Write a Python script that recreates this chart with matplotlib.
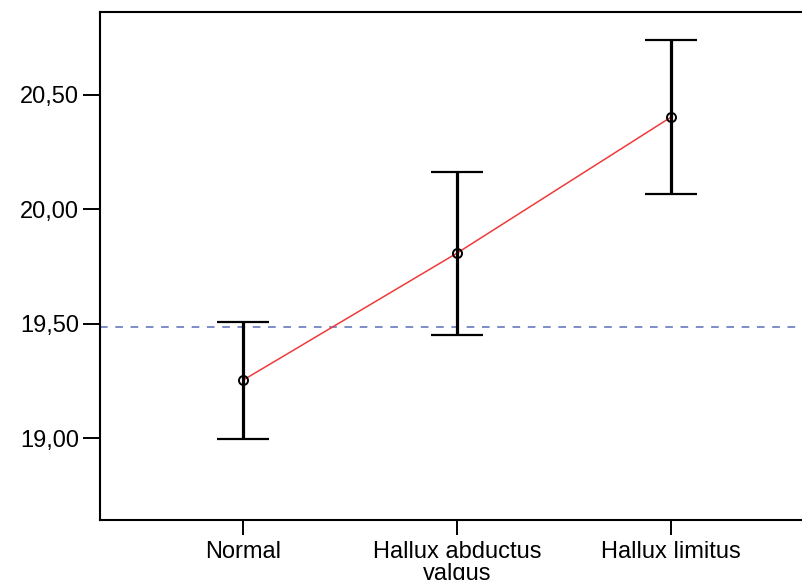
import matplotlib.pyplot as plt

# group means and 95% CI bounds
groups = ['Normal', 'Hallux abductus\nvalgus', 'Hallux limitus']
means = [19.253, 19.808, 20.402]
ci_low = [18.998, 19.452, 20.066]
ci_high = [19.508, 20.164, 20.740]
ref_line = 19.485
yticks = [19.0, 19.5, 20.0, 20.5]
ytick_labels = ['19,00', '19,50', '20,00', '20,50']

plt.rcParams['font.family'] = ['Liberation Sans', 'DejaVu Sans']

fig = plt.figure(figsize=(8.02, 5.80), dpi=100)
ax = fig.add_axes([0.1247, 0.1034, 0.890, 0.876])

x = list(range(len(groups)))
err_lo = [m - lo for m, lo in zip(means, ci_low)]
err_hi = [hi - m for m, hi in zip(means, ci_high)]

ax.axhline(ref_line, color='#5a6db5', lw=1.1, ls=(0, (5, 5)), zorder=1)
ax.plot(x, means, color='#f03a3a', lw=1.1, zorder=2)
ax.errorbar(x, means, yerr=[err_lo, err_hi], fmt='none', ecolor='black',
            elinewidth=2.3, capsize=19, capthick=1.6, zorder=3)
ax.plot(x, means, ls='none', marker='o', ms=6.5, mfc='none', mec='black',
        mew=1.4, zorder=4)

ax.set_xlim(-0.668, 2.668)
ax.set_ylim(18.642, 20.862)
ax.set_xticks(x)
ax.set_xticklabels(groups, fontsize=17, linespacing=1.0)
ax.set_yticks(yticks)
ax.set_yticklabels(ytick_labels, fontsize=17)

for s in ax.spines.values():
    s.set_linewidth(1.5)
ax.tick_params(axis='y', length=12, width=1.4, pad=3)
ax.tick_params(axis='x', length=11, width=1.4, pad=4)

fig.savefig('out.png', dpi=100)
